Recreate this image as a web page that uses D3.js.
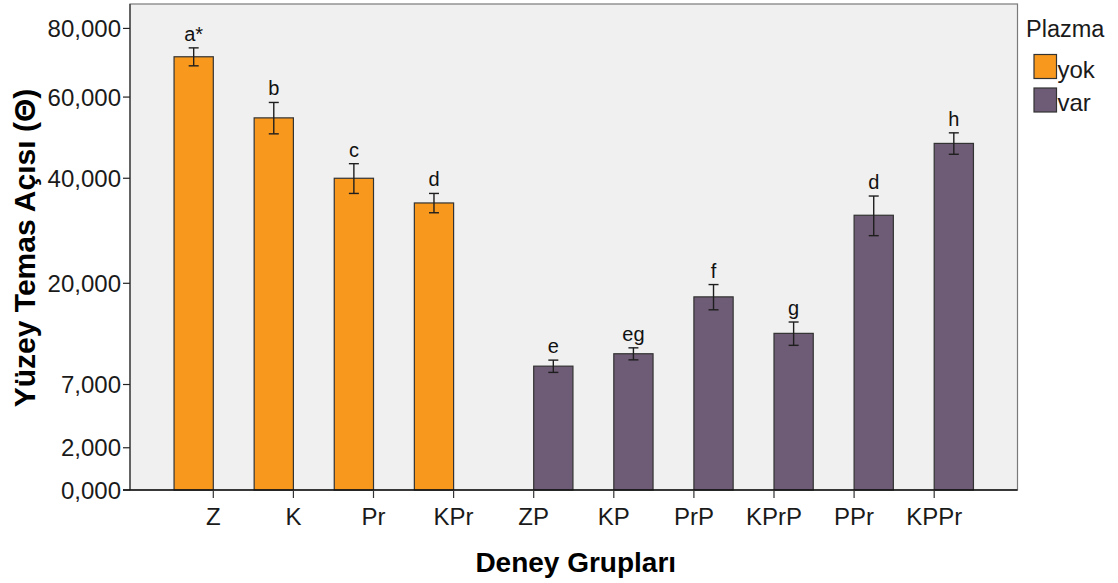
<!DOCTYPE html>
<html>
<head>
<meta charset="utf-8">
<script src="https://cdn.jsdelivr.net/npm/d3@7"></script>
<style>
  html, body { margin: 0; padding: 0; background: #ffffff; }
  svg { display: block; font-family: "Liberation Sans", Arial, sans-serif; }
</style>
</head>
<body>
<svg id="chart" width="1118" height="583"></svg>
<script>
// Experimental groups and their plasma treatment
const groups  = ["Z", "K", "Pr", "KPr", "ZP", "KP", "PrP", "KPrP", "PPr", "KPPr"];
const plasma  = ["yok", "yok", "yok", "yok", "var", "var", "var", "var", "var", "var"];
// Mean surface contact angle and error-bar half width
const means   = [71.4, 54.5, 40.0, 34.7, 8.9, 10.3, 17.9, 12.8, 32.2, 48.1];
const errors  = [2.65, 4.05, 3.3, 2.0, 0.67, 0.7, 1.9, 1.5, 3.95, 2.6];
// Significance letters above each bar
const letters = ["a*", "b", "c", "d", "e", "eg", "f", "g", "d", "h"];
// Legend and y-axis ticks
const plasmaLevels = ["yok", "var"];
const yTickValues  = [0, 2, 7, 20, 40, 60, 80];
const yTickLabels  = ["0,000", "2,000", "7,000", "20,000", "40,000", "60,000", "80,000"];

const colors = { yok: "#f8991e", var: "#6e5b75" };

const svg = d3.select("#chart");
const plot = { left: 130, right: 1017.5, top: 4, bottom: 490 };
const yMax = 87.8;

// Group positions with a left/right slot for each plasma level
const x0 = d3.scaleBand()
  .domain(groups)
  .range([plot.left, plot.right])
  .paddingInner(0.02)
  .paddingOuter(0.55);
const x1 = d3.scaleBand()
  .domain(plasmaLevels)
  .range([0, x0.bandwidth()]);

// Square-root axis on (value + 1)
const ySqrt = d3.scaleSqrt().domain([1, yMax + 1]).range([plot.bottom, plot.top]);
const y = v => ySqrt(v + 1);

// Plot background and frame
svg.append("rect")
  .attr("x", plot.left).attr("y", plot.top)
  .attr("width", plot.right - plot.left).attr("height", plot.bottom - plot.top)
  .attr("fill", "#f0f0f0")
  .attr("stroke", "#7a7a7a").attr("stroke-width", 1.2);

const data = groups.map((g, i) => ({
  group: g, plasma: plasma[i], mean: means[i], err: errors[i], letter: letters[i]
}));

// Bars
svg.append("g").selectAll("rect")
  .data(data)
  .join("rect")
  .attr("x", d => x0(d.group) + x1(d.plasma))
  .attr("y", d => y(d.mean))
  .attr("width", x1.bandwidth())
  .attr("height", d => y(0) - y(d.mean))
  .attr("fill", d => colors[d.plasma])
  .attr("stroke", "#333333")
  .attr("stroke-width", 1.2);

// Error bars
const eb = svg.append("g").attr("stroke", "#1e1e1e").attr("stroke-width", 1.4);
data.forEach(d => {
  const cx = x0(d.group) + x1(d.plasma) + x1.bandwidth() / 2;
  const yt = y(d.mean + d.err), yb = y(d.mean - d.err);
  eb.append("line").attr("x1", cx).attr("x2", cx).attr("y1", yt).attr("y2", yb);
  eb.append("line").attr("x1", cx - 5).attr("x2", cx + 5).attr("y1", yt).attr("y2", yt);
  eb.append("line").attr("x1", cx - 5).attr("x2", cx + 5).attr("y1", yb).attr("y2", yb);
});

// Significance letters
svg.append("g").selectAll("text")
  .data(data)
  .join("text")
  .attr("x", d => x0(d.group) + x1(d.plasma) + x1.bandwidth() / 2)
  .attr("y", d => y(d.mean + d.err) - 7)
  .attr("text-anchor", "middle")
  .attr("font-size", 20)
  .attr("fill", "#111")
  .text(d => d.letter);

// Y axis
const yAxis = svg.append("g")
  .attr("transform", `translate(${plot.left},0)`);
yAxis.append("line")
  .attr("x1", 0).attr("x2", 0).attr("y1", plot.top).attr("y2", plot.bottom)
  .attr("stroke", "#333").attr("stroke-width", 1.2);
const yTickG = yAxis.selectAll("g.tick")
  .data(yTickValues)
  .join("g")
  .attr("class", "tick")
  .attr("transform", d => `translate(0,${y(d)})`);
yTickG.append("line").attr("x1", -7).attr("x2", 0).attr("stroke", "#222").attr("stroke-width", 1.2);
yTickG.append("text")
  .attr("x", -9).attr("dy", "0.36em")
  .attr("text-anchor", "end")
  .attr("font-size", 24)
  .attr("fill", "#1a1a1a")
  .text((d, i) => yTickLabels[i]);

// X axis
const xAxis = svg.append("g")
  .attr("transform", `translate(0,${plot.bottom})`)
  .call(d3.axisBottom(x0).tickSize(8).tickSizeOuter(0).tickPadding(10));
xAxis.select(".domain")
  .attr("d", `M${plot.left - 7},0H${plot.right}`)
  .attr("stroke", "#111").attr("stroke-width", 1.4);
xAxis.selectAll(".tick line").attr("stroke", "#333").attr("stroke-width", 1.2);
xAxis.selectAll(".tick text")
  .attr("font-family", "\"Liberation Sans\", Arial, sans-serif")
  .attr("font-size", 24)
  .attr("fill", "#1a1a1a");

// Axis titles
svg.append("text")
  .attr("x", (plot.left + plot.right) / 2 + 2)
  .attr("y", 571.5)
  .attr("text-anchor", "middle")
  .attr("font-size", 28)
  .attr("font-weight", "bold")
  .attr("fill", "#000")
  .text("Deney Grupları");

svg.append("text")
  .attr("transform", "translate(35,248) rotate(-90)")
  .attr("text-anchor", "middle")
  .attr("font-size", 30)
  .attr("font-weight", "bold")
  .attr("fill", "#000")
  .text("Yüzey Temas Açısı (Θ)");

// Legend
const legend = svg.append("g").attr("transform", "translate(1026,0)");
legend.append("text")
  .attr("x", 0).attr("y", 36.5)
  .attr("font-size", 23.5)
  .attr("fill", "#1a1a1a")
  .text("Plazma");
const li = legend.selectAll("g.item")
  .data(plasmaLevels)
  .join("g")
  .attr("class", "item")
  .attr("transform", (d, i) => `translate(8,${54.5 + i * 33.5})`);
li.append("rect")
  .attr("width", 22.5).attr("height", 24)
  .attr("fill", d => colors[d])
  .attr("stroke", "#333").attr("stroke-width", 1.2);
li.append("text")
  .attr("x", 23.5).attr("y", 23)
  .attr("font-size", 24)
  .attr("fill", "#1a1a1a")
  .text(d => d);
</script>
</body>
</html>
